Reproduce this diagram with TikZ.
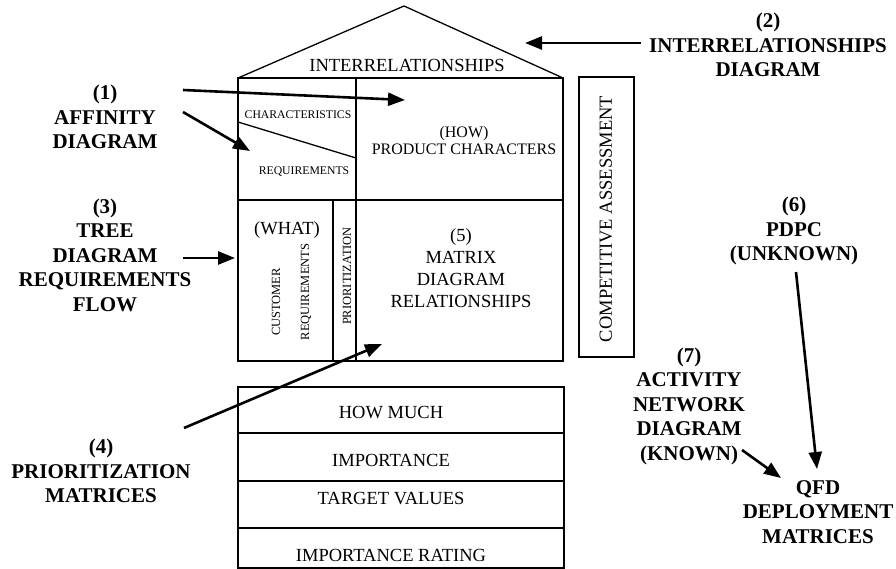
\documentclass[tikz,border=0pt]{standalone}
\usepackage{fontspec}
\setmainfont{Liberation Serif}
\usetikzlibrary{arrows.meta}
\begin{document}
\begin{tikzpicture}[x=1pt,y=-1pt,
  frame/.style={line width=1.3pt},
  lbl/.style={font=\fontsize{21}{24.5}\selectfont\bfseries, align=center, inner sep=0pt},
  cell/.style={font=\fontsize{18.5}{22}\selectfont, align=center, inner sep=0pt},
  mid/.style={font=\fontsize{16}{17}\selectfont, align=center, inner sep=0pt},
  small/.style={font=\fontsize{11.7}{14}\selectfont, inner sep=0pt},
  rot/.style={font=\fontsize{12.5}{14}\selectfont, inner sep=0pt, rotate=90},
  arr/.style={line width=2.6pt, -{Triangle[length=17pt,width=13pt]}}]
\useasboundingbox (0,0) rectangle (896,569);

% house frame
\coordinate (apex) at (404,6);
\coordinate (hl) at (238,78);
\coordinate (hr) at (563,78);
\draw[frame] (hl) -- (apex) -- (hr);
\draw[frame] (238,78) rectangle (563,361);
\draw[frame] (238,200) -- (563,200);
\draw[frame] (356,78) -- (356,361);
\draw[frame] (333,200) -- (333,361);
\coordinate (dA) at (238,122);
\coordinate (dB) at (356,158);
\draw[frame] (dA) -- (dB);
% competitive assessment
\draw[frame] (579,77) rectangle (634,357);
% bottom table
\draw[frame] (238,387) rectangle (564,568);
\draw[frame] (238,433) -- (564,433);
\draw[frame] (238,481) -- (564,481);
\draw[frame] (238,528) -- (564,528);

% texts in house
\node[cell] (roof) at (407,65) {INTERRELATIONSHIPS};
\node[small] (chars) at (298,115) {CHARACTERISTICS};
\node[small] (reqs) at (304,172) {REQUIREMENTS};
\node[mid] (how) at (464,141) {(HOW)\\PRODUCT CHARACTERS};
\node[cell] (what) at (287,230) {(WHAT)};
\node[rot] (cust) at (276,302) {CUSTOMER};
\node[rot] (creq) at (306,292) {REQUIREMENTS};
\node[rot] (prio) at (347,276) {PRIORITIZATION};
\node[cell] (matrix) at (461,268) {(5)\\MATRIX\\DIAGRAM\\RELATIONSHIPS};
\node[cell, rotate=90] (comp) at (606,219) {COMPETITIVE ASSESSMENT};
\node[cell] (hm) at (391,413) {HOW MUCH};
\node[cell] (imp) at (391,460) {IMPORTANCE};
\node[cell] (tv) at (391,499) {TARGET VALUES};
\node[cell] (ir) at (391,555) {IMPORTANCE RATING};

% labels
\node[lbl] (l1) at (105,117) {(1)\\AFFINITY\\DIAGRAM};
\node[lbl] (l2) at (768,45) {(2)\\INTERRELATIONSHIPS\\DIAGRAM};
\node[lbl] (l3) at (105,255) {(3)\\TREE\\DIAGRAM\\REQUIREMENTS\\FLOW};
\node[lbl] (l4) at (101,471) {(4)\\PRIORITIZATION\\MATRICES};
\node[lbl] (l6) at (794,231) {(6)\\PDPC\\(UNKNOWN)};
\node[lbl] (l7) at (689,406) {(7)\\ACTIVITY\\NETWORK\\DIAGRAM\\(KNOWN)};
\node[lbl] (qfd) at (818,512) {QFD\\DEPLOYMENT\\MATRICES};

% arrow end points
\coordinate (a1s) at (183,90);   \coordinate (a1e) at (405,100);
\coordinate (b1s) at (183,112);  \coordinate (b1e) at (250,151);
\coordinate (a2s) at (641,43);   \coordinate (a2e) at (525,43);
\coordinate (a3s) at (183,258);  \coordinate (a3e) at (235,258);
\coordinate (a4s) at (184,428);  \coordinate (a4e) at (382,344);
\coordinate (a6s) at (796,272);  \coordinate (a6e) at (817,469);
\coordinate (a7s) at (742,450);  \coordinate (a7e) at (781,478);

\draw[arr] (a1s) -- (a1e);
\draw[arr] (b1s) -- (b1e);
\draw[arr] (a2s) -- (a2e);
\draw[arr] (a3s) -- (a3e);
\draw[arr] (a4s) -- (a4e);
\draw[arr] (a6s) -- (a6e);
\draw[arr] (a7s) -- (a7e);
\end{tikzpicture}
\end{document}
